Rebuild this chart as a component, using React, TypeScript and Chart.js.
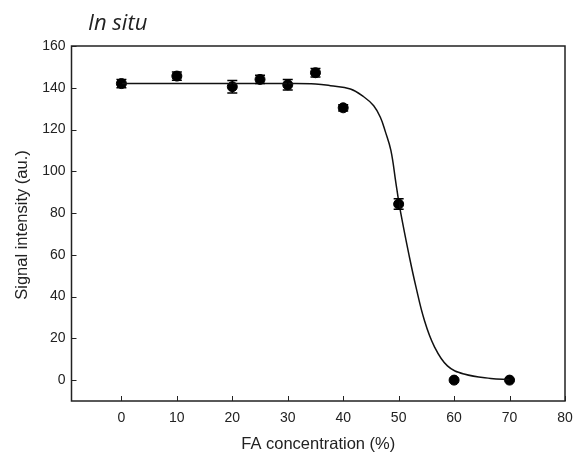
import React, { useEffect, useRef } from "react";
import { Chart, registerables } from "chart.js";

Chart.register(...registerables);

const concentrations = [0, 10, 20, 25, 30, 35, 40, 50, 60, 70];
const intensities = [142, 145.6, 140.5, 144, 141.4, 147.2, 130.4, 84.3, 0, 0];
const errors = [2, 2, 3, 2, 2.5, 2, 1.5, 2.5, 0, 0];

const fitX = [0, 10, 20, 30, 35, 37.7, 41.3, 43.7, 45.5, 46.7, 47.6, 48.6, 49.5, 50.05, 50.7, 51.9, 53.1, 54.6, 56.4, 58.8, 61.8, 66.6, 70];
const fitY = [142, 142, 142, 142, 141.8, 141, 139.4, 135.7, 131.4, 125.9, 119, 110, 94.5, 85, 75.5, 59.5, 44.9, 29, 16.3, 6.8, 2.9, 0.8, 0.3];

const xTicks = [0, 10, 20, 30, 40, 50, 60, 70, 80];
const yTicks = [0, 20, 40, 60, 80, 100, 120, 140, 160];

const titleText = "In situ";
const xTitle = "FA concentration (%)";
const yTitle = "Signal intensity (au.)";

export default function App() {
  const ref = useRef<HTMLCanvasElement | null>(null);

  useEffect(() => {
    if (!ref.current) return;
    const decor = {
      id: "decor",
      afterDatasetsDraw(chart: any) {
        const ctx = chart.ctx;
        const xs = chart.scales.x;
        const ys = chart.scales.y;
        ctx.save();
        ctx.strokeStyle = "#000";
        ctx.lineWidth = 1.5;
        concentrations.forEach((c, i) => {
          const e = errors[i];
          if (!e) return;
          const px = xs.getPixelForValue(c);
          const top = ys.getPixelForValue(intensities[i] + e);
          const bot = ys.getPixelForValue(intensities[i] - e);
          ctx.beginPath();
          ctx.moveTo(px, top);
          ctx.lineTo(px, bot);
          ctx.moveTo(px - 5, top);
          ctx.lineTo(px + 5, top);
          ctx.moveTo(px - 5, bot);
          ctx.lineTo(px + 5, bot);
          ctx.stroke();
        });
        ctx.restore();
      },
      afterDraw(chart: any) {
        const ctx = chart.ctx;
        const a = chart.chartArea;
        const xs = chart.scales.x;
        const ys = chart.scales.y;
        ctx.save();
        ctx.strokeStyle = "#222";
        ctx.lineWidth = 1.5;
        ctx.strokeRect(a.left, a.top, a.right - a.left, a.bottom - a.top);
        ctx.lineWidth = 1;
        ctx.beginPath();
        xTicks.forEach((t) => {
          const px = Math.round(xs.getPixelForValue(t)) + 0.5;
          ctx.moveTo(px, a.bottom);
          ctx.lineTo(px, a.bottom - 5);
        });
        yTicks.forEach((t) => {
          const py = Math.round(ys.getPixelForValue(t)) + 0.5;
          ctx.moveTo(a.left, py);
          ctx.lineTo(a.left + 5, py);
        });
        ctx.stroke();
        ctx.fillStyle = "#222";
        ctx.font = 'italic 22px "Open Sans"';
        ctx.textAlign = "left";
        ctx.textBaseline = "middle";
        ctx.fillText(titleText, 88, 24);
        ctx.font = '16.5px "Liberation Sans", Arial';
        ctx.textAlign = "center";
        ctx.fillText(xTitle, (a.left + a.right) / 2, 444);
        ctx.translate(22, 225);
        ctx.rotate(-Math.PI / 2);
        ctx.fillText(yTitle, 0, 0);
        ctx.restore();
      },
    };

    const chart = new Chart(ref.current, {
      type: "scatter",
      data: {
        datasets: [
          {
            type: "line",
            data: fitX.map((x, i) => ({ x, y: fitY[i] })),
            borderColor: "#111",
            borderWidth: 1.5,
            pointRadius: 0,
            tension: 0.4,
            fill: false,
          } as any,
          {
            data: concentrations.map((x, i) => ({ x, y: intensities[i] })),
            backgroundColor: "#000",
            borderColor: "#000",
            pointRadius: 5,
            pointHoverRadius: 5,
          },
        ],
      },
      plugins: [decor],
      options: {
        animation: false,
        responsive: false,
        maintainAspectRatio: false,
        layout: { padding: { left: 0, top: 46, right: 8, bottom: 0 } },
        plugins: {
          legend: { display: false },
          tooltip: { enabled: false },
          title: { display: false },
        },
        scales: {
          x: {
            type: "linear",
            min: -9,
            max: 80,
            afterFit: (s: any) => {
              s.height = 57;
              s.paddingLeft = 0;
              s.paddingRight = 0;
            },
            afterBuildTicks: (s: any) => {
              s.ticks = xTicks.map((v) => ({ value: v }));
            },
            grid: { display: false, drawTicks: false },
            border: { display: false },
            ticks: {
              padding: 9,
              color: "#222",
              font: { family: '"Liberation Sans", Arial', size: 14 },
            },
          },
          y: {
            type: "linear",
            min: -10,
            max: 160,
            afterFit: (s: any) => {
              s.width = 71.5;
              s.paddingTop = 0;
              s.paddingBottom = 0;
            },
            afterBuildTicks: (s: any) => {
              s.ticks = yTicks.map((v) => ({ value: v }));
            },
            grid: { display: false, drawTicks: false },
            border: { display: false },
            ticks: {
              padding: 6,
              color: "#222",
              font: { family: '"Liberation Sans", Arial', size: 14 },
            },
          },
        },
      },
    });
    return () => chart.destroy();
  }, []);

  return (
    <div style={{ position: "absolute", left: 0, top: 0, width: 573, height: 458, background: "#fff" }}>
      <canvas ref={ref} width={573} height={458} style={{ display: "block" }} />
    </div>
  );
}
